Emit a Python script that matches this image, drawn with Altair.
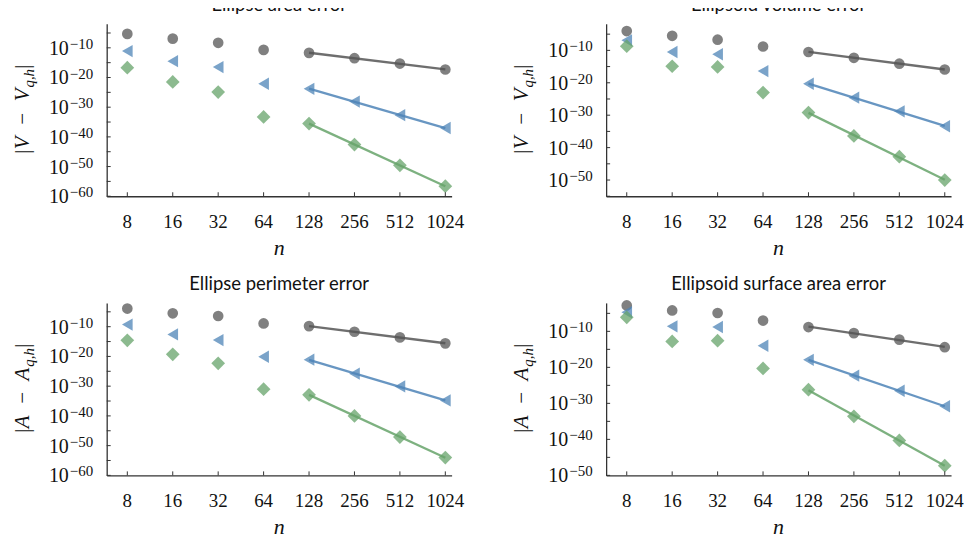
import altair as alt
import pandas as pd

# ---------------- data (log10 of the errors) ----------------
n_values = [8, 16, 32, 64, 128, 256, 512, 1024]
n_labels = ["8", "16", "32", "64", "128", "256", "512", "1024"]
series = ["circle", "triangle", "diamond"]

titles = ["Ellipse area error", "Ellipsoid volume error",
          "Ellipse perimeter error", "Ellipsoid surface area error"]
y_symbols = ["V", "V", "A", "A"]

# Ellipse area error
p1_gray = [-5.3, -6.9, -8.3, -10.7, -11.7, -13.5, -15.3, -17.3]
p1_blue = [-11.1, -14.5, -16.5, -22.1, -23.8, -28.1, -32.7, -37.0]
p1_green = [-16.7, -21.5, -24.9, -33.3, -35.5, -42.6, -49.6, -56.6]
# Ellipsoid volume error
p2_gray = [-4.05, -5.5, -6.7, -8.8, -10.5, -12.3, -14.1, -15.9]
p2_blue = [-6.9, -10.5, -11.2, -16.4, -20.3, -24.6, -28.8, -33.4]
p2_green = [-8.7, -14.9, -15.1, -23.0, -29.2, -36.4, -42.8, -50.0]
# Ellipse perimeter error
p3_gray = [-3.9, -5.5, -6.4, -8.9, -9.8, -11.7, -13.6, -15.6]
p3_blue = [-9.3, -12.6, -14.5, -20.1, -21.1, -25.8, -30.1, -34.8]
p3_green = [-14.6, -19.3, -22.3, -31.0, -32.9, -40.0, -47.1, -54.0]
# Ellipsoid surface area error
p4_gray = [-2.8, -4.2, -4.9, -7.0, -8.8, -10.5, -12.3, -14.4]
p4_blue = [-4.7, -8.6, -8.8, -14.0, -17.9, -22.3, -26.5, -30.8]
p4_green = [-6.1, -12.8, -12.6, -20.3, -26.2, -33.6, -40.3, -47.3]

# y-axis extents (log10) of each panel
y_lo = [-60, -55, -60, -50]
y_hi = [-1.9, -1.8, -2.0, -2.1]
major_exps = [-10, -20, -30, -40, -50, -60]
minor_exps = [-5, -10, -15, -20, -25, -30, -35, -40, -45, -50, -55, -60]

# ---------------- styles ----------------
W, H = 346, 173
SERIF = "Liberation Serif"
marker_colors = ["#555555", "#4e84b7", "#66a36a"]
line_colors = ["#3a3a3a", "#4a82ba", "#6aa56c"]
shapes = ["circle", "triangle-left", "diamond"]
sizes = [115, 190, 150]
AXIS_COLOR = "#333333"


def panel(idx, gray, blue, green):
    lo, hi = y_lo[idx], y_hi[idx]
    rows = []
    for s, vals in zip(series, [gray, blue, green]):
        for n, v in zip(n_values, vals):
            rows.append({"n": n, "err": 10 ** v, "s": s})
    df = pd.DataFrame(rows)

    axis_common = dict(labels=False, ticks=False, grid=False, title=None,
                       domainColor=AXIS_COLOR, domainWidth=1.3)
    X = alt.X("n:Q", scale=alt.Scale(type="log", base=2, domain=[5.84, 1127], nice=False),
              axis=alt.Axis(**axis_common))
    Y = alt.Y("err:Q", scale=alt.Scale(type="log", domain=[10 ** lo, 10 ** hi], nice=False),
              axis=alt.Axis(**axis_common))

    pts = alt.Chart(df).mark_point(filled=True, opacity=0.75).encode(
        x=X, y=Y,
        color=alt.Color("s:N", scale=alt.Scale(domain=series, range=marker_colors), legend=None),
        shape=alt.Shape("s:N", scale=alt.Scale(domain=series, range=shapes), legend=None),
        size=alt.Size("s:N", scale=alt.Scale(domain=series, range=sizes), legend=None),
    )

    fit = alt.Chart(df).transform_filter("datum.n >= 128").transform_calculate(
        lx="log(datum.n)", ly="log(datum.err)"
    ).transform_regression("lx", "ly", groupby=["s"]).transform_calculate(
        n="exp(datum.lx)", err="exp(datum.ly)"
    ).mark_line(strokeWidth=2.3, opacity=0.85).encode(
        x=X, y=Y,
        color=alt.Color("s:N", scale=alt.Scale(domain=series, range=line_colors), legend=None),
        detail="s:N",
    )

    # inward ticks
    xt = alt.Chart(pd.DataFrame({"n": n_values})).mark_rule(color=AXIS_COLOR, strokeWidth=1).encode(
        x=X, y=alt.value(H - 4), y2=alt.value(H))
    minors = [e for e in minor_exps if e >= lo]
    yt = alt.Chart(pd.DataFrame({"err": [10 ** e for e in minors]})).mark_rule(
        color=AXIS_COLOR, strokeWidth=1).encode(y=Y, x=alt.value(0), x2=alt.value(4))

    # x tick labels
    xl = alt.Chart(pd.DataFrame({"n": n_values, "lab": n_labels})).mark_text(
        font=SERIF, fontSize=19, baseline="alphabetic", align="center", color="#111"
    ).encode(x=X, y=alt.value(H + 32), text="lab:N")

    # y tick labels  10^{-k}
    majors = [e for e in major_exps if e >= lo]
    ydf = pd.DataFrame({"err": [10 ** e for e in majors],
                        "e": ["\u2212" + str(abs(e)) for e in majors]})
    yl_base = alt.Chart(ydf).mark_text(
        font=SERIF, fontSize=20, baseline="alphabetic", align="right", dy=7, color="#111"
    ).encode(y=Y, x=alt.value(-38), text=alt.value("10"))
    yl_exp = alt.Chart(ydf).mark_text(
        font=SERIF, fontSize=15, baseline="alphabetic", align="left", dy=1, color="#111"
    ).encode(y=Y, x=alt.value(-37), text="e:N")

    one = pd.DataFrame({"a": [0]})
    sym = y_symbols[idx]
    yt_main = alt.Chart(one).mark_text(
        font=SERIF, fontSize=21, fontStyle="italic", angle=270, align="right",
        baseline="alphabetic", color="#111"
    ).encode(x=alt.value(-78), y=alt.value(65), text=alt.value("|" + sym + "\u2002\u2212\u2002" + sym))
    yt_sub = alt.Chart(one).mark_text(
        font=SERIF, fontSize=15, fontStyle="italic", angle=270, align="left",
        baseline="alphabetic", color="#111"
    ).encode(x=alt.value(-73), y=alt.value(64), text=alt.value("q,h"))
    yt_close = alt.Chart(one).mark_text(
        font=SERIF, fontSize=21, angle=270, align="left",
        baseline="alphabetic", color="#111"
    ).encode(x=alt.value(-78), y=alt.value(45), text=alt.value("|"))

    xtitle = alt.Chart(one).mark_text(
        font=SERIF, fontSize=22, fontStyle="italic", align="center",
        baseline="alphabetic", color="#111"
    ).encode(x=alt.value(W / 2), y=alt.value(H + 59), text=alt.value("n"))

    title = alt.Chart(one).mark_text(
        font="Lato", fontSize=18.5, align="center", baseline="alphabetic", color="#111"
    ).encode(x=alt.value(W / 2), y=alt.value(-13), text=alt.value(titles[idx]))

    return alt.layer(pts, fit, xt, yt, xl, yl_base, yl_exp, yt_main, yt_sub, yt_close,
                     xtitle, title).properties(width=W, height=H)


p1 = panel(0, p1_gray, p1_blue, p1_green)
p2 = panel(1, p2_gray, p2_blue, p2_green)
p3 = panel(2, p3_gray, p3_blue, p3_green)
p4 = panel(3, p4_gray, p4_blue, p4_green)

chart = alt.concat(p1, p2, p3, p4, columns=2, bounds="flush",
                   spacing={"row": 107, "column": 155}).properties(
    padding={"left": 4, "top": -13, "right": 0, "bottom": 0},
    background="white",
).configure_view(stroke=None)

chart.save("out.html", embed_options={"renderer": "svg", "actions": False})
